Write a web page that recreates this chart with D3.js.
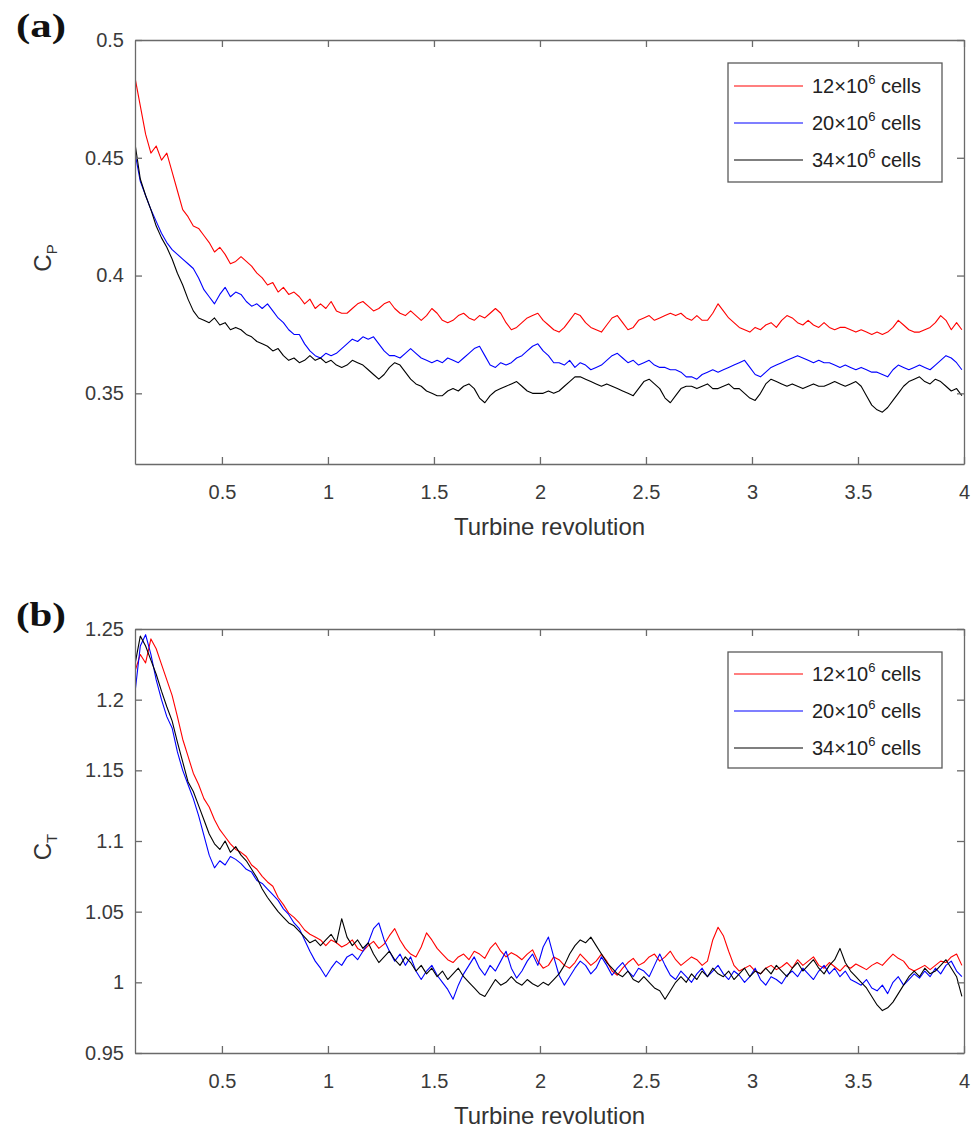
<!DOCTYPE html>
<html>
<head>
<meta charset="utf-8">
<script src="https://cdn.jsdelivr.net/npm/d3@7"></script>
<style>
  body { margin: 0; background: #fff; }
  svg text { font-family: "Liberation Sans", Arial, sans-serif; fill: #333; }
  .tick text { font-size: 20px; fill: #3a3a3a; }
  .tick line, .domain { stroke: #6a6a6a; stroke-width: 1.3; }
  .axis-title { font-size: 24px; }
  .legend-label { font-size: 20px; fill: #222; white-space: pre; }
  .panel-tag { font-family: "Liberation Serif", "Times New Roman", serif !important; font-weight: bold; font-size: 33px; fill: #111 !important; }
  .series { fill: none; stroke-width: 1.1; stroke-linejoin: round; }
</style>
</head>
<body>
<svg id="chart" width="975" height="1131"></svg>
<script>
// sampling of the curves (turbine revolutions)
const tStart = 0.09;
const tStep = 0.025;

var meshCells = [12, 20, 34]; // x10^6 cells
var xTicks = [0.5, 1, 1.5, 2, 2.5, 3, 3.5, 4];
var cpTicks = [0.35, 0.4, 0.45, 0.5];
var ctTicks = [0.95, 1, 1.05, 1.1, 1.15, 1.2, 1.25];

// power coefficient Cp
var cp12 = [
  0.484,0.472,0.460,0.452,0.455,0.449,0.452,0.444,0.436,0.428,0.425,0.421,0.420,0.417,0.414,0.410,0.412,0.409,0.405,0.406,
  0.408,0.406,0.404,0.401,0.399,0.396,0.397,0.393,0.395,0.392,0.393,0.391,0.388,0.390,0.386,0.388,0.386,0.389,0.385,0.384,
  0.384,0.386,0.388,0.389,0.387,0.385,0.386,0.388,0.389,0.386,0.384,0.383,0.385,0.383,0.381,0.383,0.386,0.384,0.381,0.380,
  0.381,0.383,0.384,0.382,0.381,0.383,0.382,0.384,0.386,0.384,0.380,0.377,0.378,0.380,0.382,0.383,0.384,0.381,0.379,0.377,
  0.376,0.378,0.381,0.384,0.383,0.380,0.378,0.377,0.376,0.379,0.382,0.383,0.380,0.377,0.378,0.381,0.382,0.383,0.381,0.382,
  0.383,0.384,0.383,0.384,0.382,0.381,0.383,0.381,0.381,0.384,0.388,0.385,0.382,0.380,0.378,0.377,0.376,0.378,0.377,0.379,
  0.380,0.378,0.381,0.383,0.382,0.380,0.379,0.381,0.379,0.378,0.380,0.378,0.377,0.378,0.378,0.377,0.376,0.377,0.376,0.375,
  0.376,0.375,0.376,0.378,0.381,0.379,0.377,0.376,0.376,0.377,0.378,0.380,0.383,0.381,0.377,0.380,0.377
];
var cp20 = [
  0.452,0.440,0.434,0.428,0.423,0.418,0.414,0.411,0.409,0.407,0.405,0.403,0.399,0.394,0.391,0.388,0.392,0.395,0.391,0.393,
  0.392,0.389,0.387,0.388,0.386,0.388,0.385,0.382,0.380,0.377,0.375,0.375,0.371,0.368,0.366,0.365,0.367,0.366,0.367,0.369,
  0.371,0.373,0.372,0.374,0.373,0.374,0.371,0.368,0.366,0.366,0.365,0.367,0.369,0.367,0.365,0.364,0.363,0.364,0.363,0.365,
  0.364,0.363,0.365,0.367,0.369,0.370,0.366,0.362,0.361,0.363,0.362,0.363,0.365,0.366,0.368,0.370,0.371,0.368,0.366,0.363,
  0.363,0.362,0.364,0.361,0.363,0.362,0.360,0.361,0.362,0.364,0.366,0.367,0.365,0.363,0.364,0.362,0.363,0.364,0.362,0.361,
  0.361,0.360,0.360,0.359,0.357,0.357,0.356,0.358,0.359,0.360,0.359,0.360,0.361,0.362,0.363,0.364,0.361,0.358,0.357,0.359,
  0.361,0.362,0.363,0.364,0.365,0.366,0.365,0.364,0.363,0.364,0.363,0.363,0.362,0.361,0.362,0.361,0.360,0.361,0.360,0.359,
  0.359,0.358,0.357,0.360,0.362,0.361,0.360,0.361,0.362,0.361,0.360,0.362,0.364,0.366,0.365,0.363,0.360
];
var cp34 = [
  0.456,0.441,0.434,0.428,0.421,0.416,0.412,0.407,0.401,0.396,0.390,0.385,0.382,0.381,0.380,0.382,0.379,0.380,0.377,0.378,
  0.377,0.375,0.374,0.372,0.371,0.370,0.368,0.369,0.366,0.364,0.365,0.363,0.364,0.366,0.364,0.365,0.363,0.364,0.362,0.361,
  0.362,0.364,0.363,0.362,0.360,0.358,0.356,0.358,0.361,0.363,0.362,0.359,0.356,0.354,0.353,0.351,0.350,0.349,0.349,0.351,
  0.352,0.351,0.353,0.354,0.352,0.348,0.346,0.349,0.351,0.352,0.353,0.354,0.355,0.353,0.351,0.350,0.350,0.350,0.351,0.350,
  0.351,0.353,0.355,0.357,0.357,0.356,0.355,0.354,0.353,0.354,0.353,0.352,0.351,0.350,0.349,0.352,0.355,0.356,0.354,0.352,
  0.348,0.346,0.349,0.352,0.353,0.353,0.352,0.353,0.354,0.352,0.352,0.353,0.354,0.352,0.352,0.350,0.348,0.347,0.350,0.354,
  0.356,0.355,0.354,0.353,0.354,0.353,0.352,0.353,0.354,0.353,0.353,0.354,0.355,0.354,0.353,0.354,0.355,0.353,0.349,0.345,
  0.343,0.342,0.344,0.347,0.350,0.353,0.355,0.356,0.357,0.355,0.354,0.356,0.355,0.353,0.351,0.352,0.349
];

// thrust coefficient Ct
var ct12 = [
  1.220,1.232,1.226,1.243,1.236,1.225,1.214,1.203,1.188,1.172,1.160,1.148,1.140,1.130,1.124,1.115,1.108,1.103,1.098,1.094,
  1.092,1.089,1.083,1.080,1.075,1.071,1.068,1.060,1.055,1.049,1.046,1.042,1.037,1.034,1.032,1.030,1.026,1.030,1.028,1.025,
  1.027,1.030,1.024,1.022,1.026,1.029,1.024,1.027,1.033,1.038,1.030,1.024,1.020,1.018,1.025,1.035,1.030,1.024,1.020,1.016,
  1.014,1.018,1.020,1.016,1.022,1.020,1.017,1.024,1.028,1.022,1.018,1.021,1.019,1.016,1.020,1.023,1.015,1.010,1.012,1.018,
  1.016,1.012,1.010,1.014,1.020,1.016,1.012,1.015,1.020,1.015,1.008,1.005,1.010,1.014,1.017,1.012,1.014,1.018,1.020,1.015,
  1.018,1.022,1.016,1.012,1.015,1.018,1.016,1.012,1.015,1.030,1.039,1.033,1.022,1.012,1.008,1.010,1.012,1.008,1.006,1.010,
  1.012,1.009,1.011,1.014,1.010,1.016,1.012,1.015,1.018,1.012,1.010,1.014,1.011,1.008,1.012,1.010,1.013,1.011,1.009,1.012,
  1.014,1.012,1.016,1.020,1.017,1.015,1.010,1.008,1.010,1.012,1.009,1.012,1.015,1.014,1.018,1.020,1.012
];
var ct20 = [
  1.205,1.238,1.246,1.232,1.214,1.200,1.188,1.180,1.163,1.150,1.140,1.130,1.118,1.104,1.090,1.081,1.086,1.083,1.089,1.087,
  1.084,1.080,1.078,1.072,1.070,1.066,1.062,1.058,1.052,1.048,1.042,1.038,1.030,1.022,1.015,1.010,1.004,1.010,1.015,1.012,
  1.018,1.020,1.016,1.022,1.028,1.038,1.042,1.030,1.022,1.015,1.020,1.012,1.018,1.008,1.002,1.008,1.012,1.005,1.000,0.995,
  0.988,0.998,1.006,1.012,1.018,1.010,1.005,1.012,1.008,1.015,1.022,1.010,1.003,1.008,1.015,1.020,1.012,1.025,1.032,1.018,
  1.005,0.998,1.004,1.010,1.015,1.012,1.006,1.010,1.018,1.012,1.005,1.010,1.014,1.008,1.004,1.010,1.008,1.004,1.012,1.020,
  1.012,1.005,1.002,1.008,1.004,1.000,1.006,1.010,1.004,1.008,1.012,1.006,1.002,1.008,1.005,1.000,1.004,1.010,1.002,0.998,
  1.004,1.002,0.999,1.005,1.008,1.004,1.010,1.006,1.002,1.008,1.012,1.006,1.010,1.004,1.008,1.002,1.000,0.998,1.002,0.996,
  0.994,0.998,0.992,1.000,1.004,0.998,1.002,1.006,1.003,1.008,1.004,1.010,1.006,1.012,1.015,1.008,1.004
];
var ct34 = [
  1.225,1.245,1.238,1.228,1.218,1.206,1.195,1.185,1.170,1.156,1.142,1.135,1.125,1.115,1.105,1.098,1.094,1.100,1.092,1.096,
  1.090,1.086,1.080,1.074,1.066,1.060,1.055,1.050,1.046,1.042,1.040,1.036,1.032,1.028,1.030,1.026,1.030,1.034,1.028,1.045,
  1.032,1.026,1.030,1.024,1.028,1.020,1.014,1.018,1.022,1.016,1.012,1.018,1.014,1.008,1.012,1.006,1.010,1.004,1.008,1.002,
  1.006,1.010,1.004,1.000,0.996,0.992,0.990,0.996,1.002,0.998,1.000,1.004,1.000,0.998,1.002,0.999,0.997,1.000,0.998,1.002,
  1.006,1.012,1.020,1.026,1.030,1.028,1.032,1.026,1.020,1.014,1.010,1.006,1.004,1.008,1.002,1.000,1.004,1.000,0.996,0.994,
  0.988,0.994,1.000,1.004,1.000,1.006,1.002,1.008,1.004,1.010,1.006,1.004,1.008,1.002,1.006,1.010,1.004,1.008,1.006,1.010,
  1.006,1.012,1.008,1.004,1.010,1.014,1.008,1.012,1.016,1.010,1.006,1.012,1.016,1.024,1.014,1.008,1.004,1.000,0.996,0.990,
  0.984,0.980,0.982,0.986,0.992,0.998,1.004,1.008,1.004,1.010,1.006,1.008,1.012,1.016,1.010,1.004,0.990
];

var lineColors = ['#ff0000', '#0000ff', '#000000'];
var plotLeft = 135, plotRight = 964;
var tickLen = 7;

class CoefficientPanel {
    constructor (svg, opts) {
        this.svg = svg;
        this.opts = opts;
        this.g = svg.append('g');
        this.x = d3.scaleLinear().domain([tStart, 4]).range([plotLeft, plotRight]);
        this.y = d3.scaleLinear().domain(opts.yDomain).range([opts.bottom, opts.top]);
    }

    redraw() {
        this.drawLines();
        this.drawAxes();
        this.drawLegend();
        this.drawLabels();
    }

    drawAxes() {
        var x = this.x, y = this.y, o = this.opts;

        this.g.append('g')
            .attr('transform', 'translate(0,' + o.bottom + ')')
            .call(d3.axisBottom(x).tickValues(xTicks).tickSizeInner(-tickLen).tickSizeOuter(0)
                .tickPadding(21).tickFormat(d3.format('')));
        this.g.append('g')
            .attr('transform', 'translate(0,' + o.top + ')')
            .call(d3.axisTop(x).tickValues(xTicks).tickSizeInner(-tickLen).tickSizeOuter(0).tickFormat(''));
        this.g.append('g')
            .attr('transform', 'translate(' + plotLeft + ',0)')
            .call(d3.axisLeft(y).tickValues(o.yTicks).tickSizeInner(-tickLen).tickSizeOuter(0)
                .tickPadding(11).tickFormat(d3.format('')));
        this.g.append('g')
            .attr('transform', 'translate(' + plotRight + ',0)')
            .call(d3.axisRight(y).tickValues(o.yTicks).tickSizeInner(-tickLen).tickSizeOuter(0).tickFormat(''));

        this.g.selectAll('.tick text').attr('font-family', null);
    }

    drawLines() {
        var x = this.x, y = this.y, o = this.opts;
        var clipId = 'clip-' + o.tag;

        this.svg.append('defs').append('clipPath').attr('id', clipId)
            .append('rect')
            .attr('x', plotLeft).attr('y', o.top)
            .attr('width', plotRight - plotLeft).attr('height', o.bottom - o.top);

        var line = d3.line()
            .x((d, i) => x(tStart + i * tStep))
            .y(d => y(d));

        this.g.append('g')
            .attr('clip-path', 'url(#' + clipId + ')')
            .selectAll('path')
            .data(o.series)
            .enter()
            .append('path')
            .attr('class', 'series')
            .attr('stroke', (d, i) => lineColors[i])
            .attr('d', d => line(d));
    }

    drawLegend() {
        var o = this.opts;
        var lx = 728, ly = o.legendTop, lw = 214, lh = o.legendHeight;
        var rowGap = 37;

        var legend = this.g.append('g');
        legend.append('rect')
            .attr('x', lx).attr('y', ly)
            .attr('width', lw).attr('height', lh)
            .attr('fill', '#fff')
            .attr('stroke', '#5a5a5a')
            .attr('stroke-width', 1.3);

        var rows = legend.selectAll('g.row')
            .data(meshCells)
            .enter()
            .append('g')
            .attr('class', 'row')
            .attr('transform', (d, i) => 'translate(0,' + (ly + o.legendFirst + i * rowGap) + ')');

        rows.append('line')
            .attr('x1', lx + 6).attr('x2', lx + 75)
            .attr('y1', 0).attr('y2', 0)
            .attr('stroke', (d, i) => lineColors[i])
            .attr('stroke-width', 1.2);

        var txt = rows.append('text')
            .attr('class', 'legend-label')
            .attr('x', lx + 84)
            .attr('y', 7);
        txt.append('tspan').text(d => d + '\u00d710');
        txt.append('tspan').attr('dy', -9).attr('font-size', 13).text('6');
        txt.append('tspan').attr('dy', 9).text(' cells');
    }

    drawLabels() {
        var o = this.opts;
        var midY = (o.top + o.bottom) / 2;

        this.g.append('text')
            .attr('class', 'axis-title')
            .attr('x', (plotLeft + plotRight) / 2)
            .attr('y', o.bottom + 71)
            .attr('text-anchor', 'middle')
            .text('Turbine revolution');

        var yl = this.g.append('text')
            .attr('class', 'axis-title')
            .attr('transform', 'translate(51,' + (midY + 6) + ') rotate(-90)')
            .attr('text-anchor', 'middle');
        yl.append('tspan').text('C');
        yl.append('tspan').attr('dy', 6).attr('font-size', 15).text(o.sub);

        this.g.append('text')
            .attr('class', 'panel-tag')
            .attr('x', 16)
            .attr('y', o.top - 3)
            .attr('textLength', 50)
            .attr('lengthAdjust', 'spacingAndGlyphs')
            .text('(' + o.tag + ')');
    }
}

var svg = d3.select('#chart');

new CoefficientPanel(svg, {
    tag: 'a', sub: 'P',
    top: 40, bottom: 464,
    yDomain: [0.32, 0.5], yTicks: cpTicks,
    series: [cp12, cp20, cp34],
    legendTop: 63, legendHeight: 119, legendFirst: 23
}).redraw();

new CoefficientPanel(svg, {
    tag: 'b', sub: 'T',
    top: 629, bottom: 1053,
    yDomain: [0.95, 1.25], yTicks: ctTicks,
    series: [ct12, ct20, ct34],
    legendTop: 652, legendHeight: 116, legendFirst: 22
}).redraw();
</script>
</body>
</html>
